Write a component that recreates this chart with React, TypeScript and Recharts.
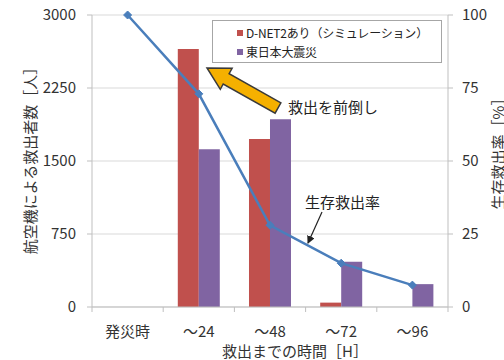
import React from 'react';
import { ComposedChart, Bar, Line, XAxis, YAxis, CartesianGrid } from 'recharts';

const categories = ['発災時', '～24', '～48', '～72', '～96'];
const dnetValues = [0, 2650, 1725, 45, 0];
const eastJapanValues = [0, 1620, 1930, 465, 235];
const survivalRate = [100, 73, 28, 15, 7.5];
const leftTicks = [0, 750, 1500, 2250, 3000];
const rightTicks = [0, 25, 50, 75, 100];

const seriesNames = ['D-NET2あり（シミュレーション）', '東日本大震災'];
const seriesColors = ['#c0504d', '#8064a2'];
const lineColor = '#4a7ebb';

const data = categories.map((c, i) => ({
  cat: c,
  dnet: dnetValues[i],
  east: eastJapanValues[i],
  rate: survivalRate[i],
}));

const W = 504;
const H = 360;
const LEFT_W = 92;
const RIGHT_W = 56;
const TOP = 15;
const X_H = 53;
const FONT = '"Noto Sans CJK JP", "Noto Sans", sans-serif';
const TXT = '#333';
const AXIS = '#bfbfbf';

const plotW = W - LEFT_W - RIGHT_W;
const band = plotW / categories.length;

const XTick = (props: any) => {
  const { x, payload, index } = props;
  const axisY = H - X_H;
  const lx = x - band / 2;
  return (
    <g>
      <line x1={lx} y1={axisY} x2={lx} y2={axisY + 5} stroke={AXIS} />
      {index === categories.length - 1 && (
        <line x1={lx + band} y1={axisY} x2={lx + band} y2={axisY + 5} stroke={AXIS} />
      )}
      <text x={x} y={axisY + 30} textAnchor="middle" fontSize={15} fill={TXT} fontFamily={FONT}>
        {payload.value}
      </text>
    </g>
  );
};

const Diamond = (props: any) => {
  const { cx, cy } = props;
  if (cx == null || cy == null) return null;
  const r = 4;
  return (
    <path
      d={`M${cx},${cy - r}L${cx + r},${cy}L${cx},${cy + r}L${cx - r},${cy}Z`}
      fill={lineColor}
      stroke={lineColor}
    />
  );
};

function arrowPoints(tx: number, ty: number, hx: number, hy: number, sw: number, hw: number, hl: number) {
  const dx = hx - tx;
  const dy = hy - ty;
  const len = Math.sqrt(dx * dx + dy * dy);
  const ux = dx / len;
  const uy = dy / len;
  const nx = -uy;
  const ny = ux;
  const neckX = hx - ux * hl;
  const neckY = hy - uy * hl;
  const p = [
    [tx + nx * sw, ty + ny * sw],
    [neckX + nx * sw, neckY + ny * sw],
    [neckX + nx * hw, neckY + ny * hw],
    [hx, hy],
    [neckX - nx * hw, neckY - ny * hw],
    [neckX - nx * sw, neckY - ny * sw],
    [tx - nx * sw, ty - ny * sw],
  ];
  return p.map((q) => q.map((v) => v.toFixed(1)).join(',')).join(' ');
}

export default function App() {
  return (
    <div style={{ position: 'absolute', left: 0, top: 0, width: W, height: H, background: '#fff' }}>
      <ComposedChart
        width={W}
        height={H}
        data={data}
        margin={{ top: TOP, right: 0, bottom: 0, left: 0 }}
        barGap={0}
        barCategoryGap="20.5%"
      >
        <CartesianGrid vertical={false} stroke="#d9d9d9" yAxisId="left" />
        <XAxis
          dataKey="cat"
          height={X_H}
          tickLine={false}
          axisLine={{ stroke: AXIS }}
          tick={<XTick />}
          interval={0}
        />
        <YAxis
          yAxisId="left"
          width={LEFT_W}
          domain={[0, 3000]}
          ticks={leftTicks}
          tickSize={5}
          tickMargin={11}
          axisLine={{ stroke: AXIS }}
          tickLine={{ stroke: AXIS }}
          tick={{ fontSize: 15, fill: TXT, fontFamily: FONT }}
        />
        <YAxis
          yAxisId="right"
          orientation="right"
          width={RIGHT_W}
          domain={[0, 100]}
          ticks={rightTicks}
          tickSize={5}
          tickMargin={9}
          axisLine={{ stroke: AXIS }}
          tickLine={{ stroke: AXIS }}
          tick={{ fontSize: 15, fill: TXT, fontFamily: FONT, textAnchor: 'start' }}
        />
        <Bar yAxisId="left" dataKey="dnet" name={seriesNames[0]} fill={seriesColors[0]} isAnimationActive={false} />
        <Bar yAxisId="left" dataKey="east" name={seriesNames[1]} fill={seriesColors[1]} isAnimationActive={false} />
        <Line
          yAxisId="right"
          dataKey="rate"
          type="linear"
          stroke={lineColor}
          strokeWidth={2.5}
          dot={<Diamond />}
          isAnimationActive={false}
        />
      </ComposedChart>

      <svg
        width={W}
        height={H}
        style={{ position: 'absolute', left: 0, top: 0, pointerEvents: 'none' }}
      >
        <defs>
          <marker id="ah" markerWidth="8" markerHeight="8" refX="7" refY="4" orient="auto" markerUnits="userSpaceOnUse">
            <path d="M0,0 L8,4 L0,8 Z" fill="#222" />
          </marker>
        </defs>
        <text
          transform="translate(29,157) rotate(-90)"
          textAnchor="middle"
          dominantBaseline="central"
          fontSize={15}
          fill={TXT}
          fontFamily={FONT}
        >
          航空機による救出者数［人］
        </text>
        <text
          transform="translate(497,150) rotate(-90)"
          textAnchor="middle"
          dominantBaseline="central"
          fontSize={15}
          fill={TXT}
          fontFamily={FONT}
        >
          生存救出率［%］
        </text>
        <text x={295} y={350} textAnchor="middle" dominantBaseline="central" fontSize={15} fill={TXT} fontFamily={FONT}>
          救出までの時間［H］
        </text>

        <polygon
          points={arrowPoints(278, 108, 207, 68, 6, 12, 22)}
          fill="#f5b000"
          stroke="#3a3a3a"
          strokeWidth={1.5}
          strokeLinejoin="miter"
        />
        <text x={288} y={106} dominantBaseline="central" fontSize={15} fill="#222" fontFamily={FONT}>
          救出を前倒し
        </text>
        <text x={305} y={201} dominantBaseline="central" fontSize={15} fill="#222" fontFamily={FONT}>
          生存救出率
        </text>
        <line x1={322} y1={212} x2={308} y2={243} stroke="#222" strokeWidth={1.2} markerEnd="url(#ah)" />
      </svg>

      <div
        style={{
          position: 'absolute',
          left: 212,
          top: 20,
          width: 230,
          height: 43,
          boxSizing: 'border-box',
          border: '1px solid #a6a6a6',
          background: '#fff',
          fontFamily: FONT,
          fontSize: 12,
          letterSpacing: -0.2,
          color: '#222',
          paddingLeft: 24,
          paddingTop: 2,
        }}
      >
        {seriesNames.map((n, i) => (
          <div key={n} style={{ display: 'flex', alignItems: 'center', height: 19, whiteSpace: 'nowrap' }}>
            <span
              style={{
                display: 'inline-block',
                flexShrink: 0,
                width: 6,
                height: 6,
                background: seriesColors[i],
                marginRight: 3,
              }}
            />
            <span>{n}</span>
          </div>
        ))}
      </div>
    </div>
  );
}
